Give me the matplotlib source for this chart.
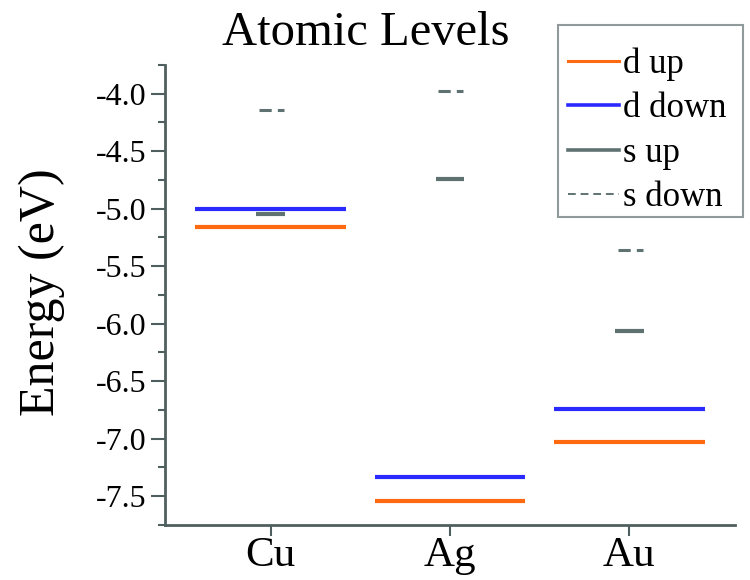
import matplotlib
matplotlib.use('Agg')
import matplotlib.pyplot as plt
from matplotlib.patches import Rectangle
from matplotlib.ticker import MultipleLocator

plt.rcParams['font.family'] = ['Liberation Serif', 'DejaVu Serif']

metals = ['Cu', 'Ag', 'Au']
d_up = [-5.16, -7.54, -7.03]
d_down = [-5.00, -7.33, -6.74]
s_up = [-5.05, -4.74, -6.06]
s_down = [-4.14, -3.98, -5.36]

c_dup = '#ff6a10'
c_ddown = '#2a2aff'
c_s = '#5f7272'

fig = plt.figure(figsize=(7.5, 5.8), dpi=100)
ax = fig.add_axes([0.22, 0.095, 0.76, 0.793])

pos = range(1, len(metals) + 1)
for x, a, b, c, d in zip(pos, d_up, d_down, s_up, s_down):
    ax.hlines(a, x - 0.42, x + 0.42, color=c_dup, lw=3)
    ax.hlines(b, x - 0.42, x + 0.42, color=c_ddown, lw=3)
    ax.hlines(c, x - 0.08, x + 0.08, color=c_s, lw=3)
    ax.hlines(d, x - 0.065, x + 0.075, color=c_s, lw=2.2, linestyles=[(0, (4, 2))])

# legend handles
h1, = ax.plot([], [], color=c_dup, lw=2.2, label='d up')
h2, = ax.plot([], [], color=c_ddown, lw=2.6, label='d down')
h3, = ax.plot([], [], color=c_s, lw=2.6, label='s up')
h4, = ax.plot([], [], color=c_s, lw=1.4, ls=(0, (4, 2.5)), label='s down')

ax.set_xlim(0.41, 3.59)
ax.set_ylim(-7.75, -3.75)
ax.set_xticks(list(pos))
ax.set_xticklabels(metals, fontsize=31)
ax.yaxis.set_minor_locator(MultipleLocator(0.25))
ax.set_yticks([-4.0, -4.5, -5.0, -5.5, -6.0, -6.5, -7.0, -7.5])
ax.set_yticklabels(['%.1f' % v for v in ax.get_yticks()], fontsize=23)

for s in ['top', 'right']:
    ax.spines[s].set_visible(False)
for s in ['left', 'bottom']:
    ax.spines[s].set_color('#4f5f5f')
    ax.spines[s].set_linewidth(2)
ax.tick_params(which='both', direction='out', color='#4f5f5f', width=1.5)
ax.tick_params(axis='y', which='major', length=10, pad=3)
ax.tick_params(axis='y', which='minor', length=5)
ax.tick_params(axis='x', which='major', length=8, pad=0)

fig.text(0.487, 1 - 45 / 580, 'Atomic Levels', fontsize=35, ha='center', va='baseline')
fig.text(0.056, 0.497, 'Energy (eV)', fontsize=36, rotation=90, ha='center', va='center')

# legend without its own frame, box drawn separately
leg = ax.legend(handles=[h1, h2, h3, h4], loc='upper left',
                bbox_to_anchor=(0.744, 0.936), bbox_transform=fig.transFigure,
                fontsize=25, frameon=False, borderaxespad=0,
                handlelength=1.45, handletextpad=0.12, labelspacing=0.33,
                borderpad=0.3)
box = Rectangle((0.744, 0.626), 0.2467, 0.331, transform=fig.transFigure,
                fill=False, edgecolor='#909a9a', linewidth=1.5)
fig.patches.append(box)

fig.savefig('out.png', dpi=100)
